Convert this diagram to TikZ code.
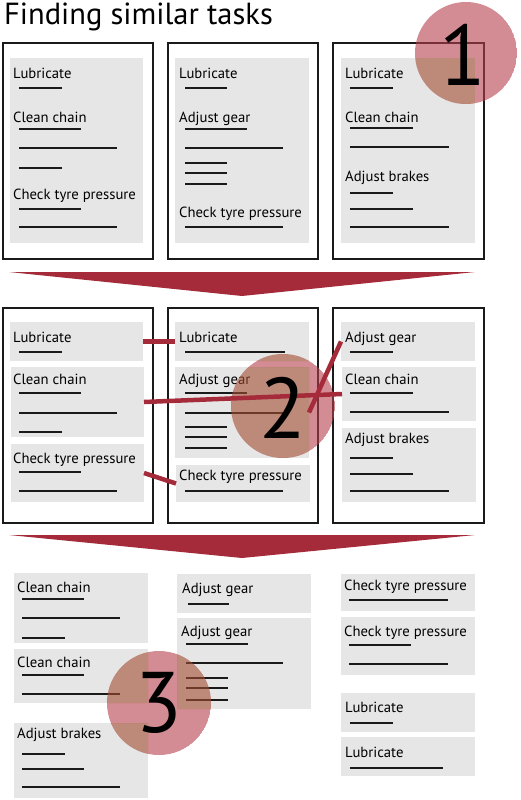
\documentclass[tikz,border=0pt]{standalone}
\usepackage{fontspec}
\setmainfont{PT Sans}
\usetikzlibrary{positioning,calc}
\definecolor{tkgray}{HTML}{E6E6E6}
\definecolor{tkred}{HTML}{A52A3A}
\definecolor{tkpink}{HTML}{B8404C}
\definecolor{tkbrown}{HTML}{A34D32}
\definecolor{tkink}{HTML}{1A1A1A}

\tikzset{
  sheet/.style={draw=tkink,line width=2.4pt},
  taskbox/.style={fill=tkgray,inner sep=0pt,outer sep=0pt,anchor=north west},
  tasklabel/.style={font=\fontsize{14.7}{14.7}\selectfont,anchor=base west,inner sep=0pt},
  bar/.style={tkink,line width=2.6pt},
  link/.style={tkred,line width=4.5pt},
  stepnum/.style={font=\fontsize{86}{86}\selectfont,inner sep=0pt,text=black},
  stepdisc/.style={tkpink,opacity=0.6,even odd rule},
  stepshade/.style={tkbrown,opacity=0.6},
}

\begin{document}
\begin{tikzpicture}[x=1pt,y=-1pt]
  \useasboundingbox (0,0) rectangle (520,800);

  % ---- Title -------------------------------------------------
  \node[font=\fontsize{30.5}{30.5}\selectfont,anchor=base west,inner sep=0pt]
    (title) at (4,25) {Finding similar tasks};

  % ---- Row 1: three task lists -------------------------------
  \draw[sheet] (3,43) rectangle (153,259);
  \draw[sheet] (168,43) rectangle (318,259);
  \draw[sheet] (333,43) rectangle (484,259);

  \node[taskbox,minimum width=133pt,minimum height=185pt] (ra) at (10,58) {};
  \node[taskbox,minimum width=134pt,minimum height=185pt] (rb) at (175,58) {};
  \node[taskbox,minimum width=134pt,minimum height=185pt] (rc) at (341,58) {};

  % list one
  \node[tasklabel] (ra1) at (13,78)  {Lubricate};
  \node[tasklabel] (ra2) at (13,122) {Clean chain};
  \node[tasklabel] (ra3) at (13,199) {Check tyre pressure};
  \draw[bar] (19,88) -- (62,88);
  \draw[bar] (19,129) -- (81,129);
  \draw[bar] (19,148) -- (117,148);
  \draw[bar] (19,168) -- (62,168);
  \draw[bar] (19,209) -- (81,209);
  \draw[bar] (19,227) -- (117,227);

  % list two
  \node[tasklabel] (rb1) at (179,78)  {Lubricate};
  \node[tasklabel] (rb2) at (179,122) {Adjust gear};
  \node[tasklabel] (rb3) at (179,217) {Check tyre pressure};
  \draw[bar] (185,88) -- (227,88);
  \draw[bar] (185,129) -- (247,129);
  \draw[bar] (185,148) -- (283,148);
  \draw[bar] (185,163) -- (227,163);
  \draw[bar] (185,173) -- (227,173);
  \draw[bar] (185,184) -- (227,184);
  \draw[bar] (185,227) -- (283,227);

  % list three
  \node[tasklabel] (rc1) at (345,78)  {Lubricate};
  \node[tasklabel] (rc2) at (345,122) {Clean chain};
  \node[tasklabel] (rc3) at (345,181) {Adjust brakes};
  \draw[bar] (350,88) -- (393,88);
  \draw[bar] (350,128) -- (413,128);
  \draw[bar] (350,147) -- (449,147);
  \draw[bar] (350,193) -- (393,193);
  \draw[bar] (350,209) -- (413,209);
  \draw[bar] (350,227) -- (449,227);

  % ---- Funnel 1 ----------------------------------------------
  \fill[tkred] (9,272) -- (475,272) -- (242,296) -- cycle;

  % ---- Row 2: tasks split and matched ------------------------
  \draw[sheet] (3,308) rectangle (153,523);
  \draw[sheet] (168,308) rectangle (318,523);
  \draw[sheet] (333,308) rectangle (484,523);

  \node[taskbox,minimum width=133pt,minimum height=39pt] (lubA)   at (10,322)  {};
  \node[taskbox,minimum width=133pt,minimum height=70pt] (cleanA) at (11,367)  {};
  \node[taskbox,minimum width=133pt,minimum height=58pt] (tyreA)  at (11,444)  {};
  \node[taskbox,minimum width=134pt,minimum height=39pt] (lubB)   at (175,322) {};
  \node[taskbox,minimum width=134pt,minimum height=91pt] (gearB)  at (175,367) {};
  \node[taskbox,minimum width=134pt,minimum height=37pt] (tyreB)  at (176,465) {};
  \node[taskbox,minimum width=134pt,minimum height=39pt] (gearC)  at (341,322) {};
  \node[taskbox,minimum width=134pt,minimum height=54pt] (cleanC) at (342,367) {};
  \node[taskbox,minimum width=134pt,minimum height=74pt] (brakesC) at (342,428) {};

  \node[tasklabel] (lubA-t)   at (13,342)  {Lubricate};
  \node[tasklabel] (cleanA-t) at (13,384)  {Clean chain};
  \node[tasklabel] (tyreA-t)  at (13,463)  {Check tyre pressure};
  \draw[bar] (19,352) -- (62,352);
  \draw[bar] (19,393) -- (81,393);
  \draw[bar] (19,413) -- (117,413);
  \draw[bar] (19,432) -- (62,432);
  \draw[bar] (19,472) -- (81,472);
  \draw[bar] (19,491) -- (117,491);

  \node[tasklabel] (lubB-t)  at (179,342) {Lubricate};
  \node[tasklabel] (gearB-t) at (179,384) {Adjust gear};
  \node[tasklabel] (tyreB-t) at (179,480) {Check tyre pressure};
  \draw[bar] (185,352) -- (285,352);
  \draw[bar] (185,393) -- (247,393);
  \draw[bar] (185,413) -- (283,413);
  \draw[bar] (185,427) -- (227,427);
  \draw[bar] (185,437) -- (227,437);
  \draw[bar] (185,448) -- (227,448);
  \draw[bar] (185,491) -- (283,491);

  \node[tasklabel] (gearC-t)   at (345,342) {Adjust gear};
  \node[tasklabel] (cleanC-t)  at (345,384) {Clean chain};
  \node[tasklabel] (brakesC-t) at (345,443) {Adjust brakes};
  \draw[bar] (350,352) -- (393,352);
  \draw[bar] (350,393) -- (413,393);
  \draw[bar] (350,412) -- (449,412);
  \draw[bar] (350,458) -- (393,458);
  \draw[bar] (350,474) -- (413,474);
  \draw[bar] (350,491) -- (449,491);

  % ---- Funnel 2 ----------------------------------------------
  \fill[tkred] (9,535) -- (475,535) -- (242,558) -- cycle;

  % ---- Row 3: similar tasks grouped --------------------------
  \node[taskbox,minimum width=134pt,minimum height=70pt] (cleanX)  at (14,573)  {};
  \node[taskbox,minimum width=134pt,minimum height=54pt] (cleanY)  at (14,649)  {};
  \node[taskbox,minimum width=134pt,minimum height=75pt] (brakesX) at (14,723)  {};
  \node[taskbox,minimum width=134pt,minimum height=39pt] (gearX)   at (177,574) {};
  \node[taskbox,minimum width=134pt,minimum height=91pt] (gearY)   at (177,618) {};
  \node[taskbox,minimum width=134pt,minimum height=37pt] (tyreX)   at (341,574) {};
  \node[taskbox,minimum width=134pt,minimum height=58pt] (tyreY)   at (341,617) {};
  \node[taskbox,minimum width=134pt,minimum height=39pt] (lubX)    at (341,693) {};
  \node[taskbox,minimum width=134pt,minimum height=39pt] (lubY)    at (341,737) {};

  \node[tasklabel] (cleanX-t)  at (17,592) {Clean chain};
  \node[tasklabel] (cleanY-t)  at (17,667) {Clean chain};
  \node[tasklabel] (brakesX-t) at (17,738) {Adjust brakes};
  \draw[bar] (22,599) -- (84,599);
  \draw[bar] (22,618) -- (120,618);
  \draw[bar] (22,638) -- (65,638);
  \draw[bar] (22,675) -- (84,675);
  \draw[bar] (22,694) -- (120,694);
  \draw[bar] (22,754) -- (65,754);
  \draw[bar] (22,769) -- (84,769);
  \draw[bar] (22,787) -- (120,787);

  \node[tasklabel] (gearX-t) at (182,593) {Adjust gear};
  \node[tasklabel] (gearY-t) at (181,636) {Adjust gear};
  \draw[bar] (188,604) -- (229,604);
  \draw[bar] (186,644) -- (248,644);
  \draw[bar] (186,663) -- (283,663);
  \draw[bar] (186,678) -- (228,678);
  \draw[bar] (186,688) -- (228,688);
  \draw[bar] (186,700) -- (228,700);

  \node[tasklabel] (tyreX-t) at (344,590) {Check tyre pressure};
  \node[tasklabel] (tyreY-t) at (344,636) {Check tyre pressure};
  \node[tasklabel] (lubX-t)  at (345,712) {Lubricate};
  \node[tasklabel] (lubY-t)  at (345,757) {Lubricate};
  \draw[bar] (349,600) -- (448,600);
  \draw[bar] (349,645) -- (411,645);
  \draw[bar] (349,664) -- (448,664);
  \draw[bar] (350,723) -- (393,723);
  \draw[bar] (350,768) -- (443,768);

  % ---- Step discs --------------------------------------------
  \begin{scope}
    \clip (466,53) circle (51pt);
    \fill[stepdisc] (466,53) circle (51pt) (rc.north west) rectangle (rc.south east);
    \fill[stepshade] (rc.north west) rectangle (rc.south east);
  \end{scope}
  \begin{scope}
    \clip (283,406) circle (52pt);
    \fill[stepdisc] (283,406) circle (52pt)
      (lubB.north west) rectangle (lubB.south east)
      (gearB.north west) rectangle (gearB.south east);
    \fill[stepshade] (lubB.north west) rectangle (lubB.south east)
      (gearB.north west) rectangle (gearB.south east);
  \end{scope}
  \begin{scope}
    \clip (159,703) circle (52pt);
    \fill[stepdisc] (159,703) circle (52pt)
      (cleanY.north west) rectangle (cleanY.south east)
      (brakesX.north west) rectangle (brakesX.south east)
      (gearY.north west) rectangle (gearY.south east);
    \fill[stepshade] (cleanY.north west) rectangle (cleanY.south east)
      (brakesX.north west) rectangle (brakesX.south east)
      (gearY.north west) rectangle (gearY.south east);
  \end{scope}

  % ---- Matches -----------------------------------------------
  \draw[link] (lubA.east) -- (lubB.west);
  \draw[link] (cleanA.east) -- (cleanC.west);
  \draw[link] (tyreA.east) -- (tyreB.west);
  \draw[link] (gearB.east) -- (gearC.west);

  \node[stepnum] (one)   at (463,55)  {1};
  \node[stepnum] (two)   at (283,408) {2};
  \node[stepnum] (three) at (159,703) {3};

\end{tikzpicture}
\end{document}
